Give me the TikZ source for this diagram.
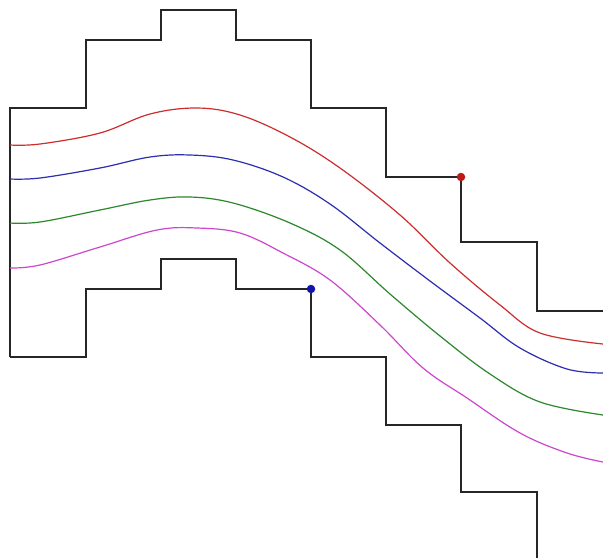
\documentclass[tikz,border=0pt]{standalone}
\begin{document}
\begin{tikzpicture}[x=1pt,y=-1pt,
  wall/.style={draw=black!85,line width=1.7pt,line join=miter},
  flow/.style={line width=1.2pt,smooth,tension=0.6},
  marker/.style={circle,inner sep=0pt,minimum size=8.5pt,draw=none}]
\useasboundingbox[fill=white] (0,0) rectangle (603,558);
% upper wall
\draw[wall] (10,357) -- (10,108) -- (86,108) -- (86,40) -- (161,40) -- (161,10) -- (236,10) -- (236,40) -- (311,40) -- (311,108) -- (386,108) -- (386,177) -- (461,177) -- (461,242) -- (537,242) -- (537,311) -- (603,311);
% lower wall
\draw[wall] (10,357) -- (86,357) -- (86,289) -- (161,289) -- (161,259) -- (236,259) -- (236,289) -- (311,289) -- (311,357) -- (386,357) -- (386,425) -- (461,425) -- (461,492) -- (537,492) -- (537,558);
% flow lines
\draw[flow,draw={rgb,255:red,205;green,45;blue,45}] plot coordinates {(10,145) (40,144) (100,133) (150,114) (197,108) (240,115) (290,137) (340,168) (400,215) (450,263) (500,305) (540,333) (603,344)};
\draw[flow,draw={rgb,255:red,45;green,45;blue,175}] plot coordinates {(10,179) (40,178) (100,168) (150,157) (190,155) (233,160) (283,177) (330,204) (380,243) (430,281) (480,318) (520,348) (567,369) (603,373)};
\draw[flow,draw={rgb,255:red,45;green,135;blue,45}] plot coordinates {(10,223) (40,222) (100,210) (150,200) (190,197) (233,203) (290,223) (340,250) (390,294) (440,336) (490,374) (540,402) (603,415)};
\draw[flow,draw={rgb,255:red,205;green,70;blue,205}] plot coordinates {(10,268) (40,265) (100,247) (157,230) (197,228) (240,233) (283,253) (330,280) (380,325) (423,368) (467,398) (520,433) (567,453) (603,462)};
% markers
\node[marker,fill={rgb,255:red,190;green,25;blue,25}] (rdot) at (461,177) {};
\node[marker,fill={rgb,255:red,20;green,20;blue,170}] (bdot) at (311,289) {};
\end{tikzpicture}
\end{document}
